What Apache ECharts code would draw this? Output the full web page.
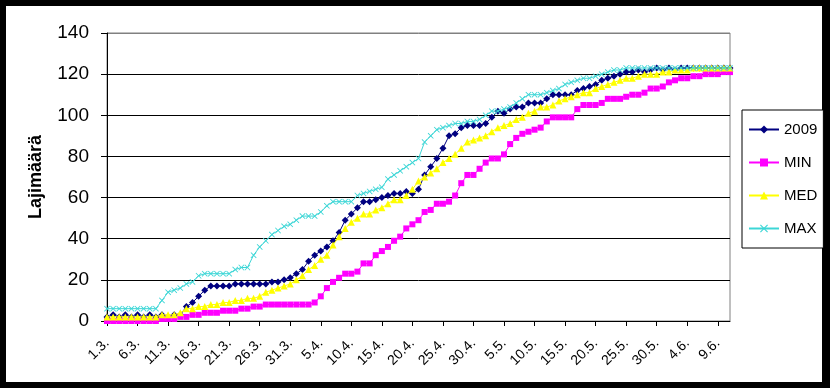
<!DOCTYPE html>
<html><head><meta charset="utf-8">
<script src="https://cdn.jsdelivr.net/npm/echarts@6/dist/echarts.min.js"></script>
<style>html,body{margin:0;padding:0;background:#000;}#c{width:830px;height:388px;}</style>
</head><body><div id="c"></div>
<script>
// categories: 1.3. .. 11.6.
const monthDays = [[3,31],[4,30],[5,31],[6,11]];
const dates = [];
monthDays.forEach(([m,n]) => { for (let d = 1; d <= n; d++) dates.push(d + '.' + m + '.'); });

const y2009 = [2,3,2,3,2,3,2,3,2,3,2,3,3,7,9,12,15,17,17,17,17,18,18,18,18,18,18,19,19,20,
  21,23,25,29,32,34,36,39,43,49,52,55,58,58,59,60,61,62,62,63,62,64,71,75,79,84,90,91,94,95,
  95,95,96,99,102,101,103,104,104,106,106,106,108,110,110,110,110,112,113,114,115,117,118,119,120,121,121,122,121,122,
  123,122,123,122,123,123,123,123,123,123,123,123,123];
const yMin = [0,0,0,0,0,0,0,0,0,1,1,1,2,2,3,3,4,4,4,5,5,5,6,6,7,7,8,8,8,8,
  8,8,8,8,9,12,16,19,21,23,23,24,28,28,32,34,36,39,41,45,47,49,53,54,57,57,58,61,67,71,
  71,74,77,79,79,81,86,89,91,92,93,94,97,99,99,99,99,103,105,105,105,106,108,108,108,109,110,110,111,113,
  113,114,116,117,118,118,119,119,120,120,120,121,121];
const yMed = [2,2,2,2,2,2,2,2,2,3,3,3,4,6,6,7,7,8,8,9,9,10,10,11,11,12,14,15,16,17,
  18,20,22,25,27,30,32,37,41,45,48,50,52,52,54,55,57,59,59,61,64,68,70,72,74,77,79,81,84,87,
  88,89,90,92,94,95,96,98,99,101,102,104,104,105,107,108,109,110,111,111,113,114,115,116,117,118,118,119,120,120,
  120,121,121,122,122,122,123,123,123,123,123,123,123];
const yMax = [6,6,6,6,6,6,6,6,6,10,14,15,16,18,19,22,23,23,23,23,23,25,26,26,32,36,39,42,44,46,
  47,49,51,51,51,53,56,58,58,58,58,61,62,63,64,65,69,71,73,75,77,79,87,90,93,94,95,96,96,97,
  97,98,100,102,102,103,104,106,108,110,110,110,111,112,113,115,116,117,118,118,119,120,121,122,122,123,123,123,123,123,
  123,123,123,123,123,123,123,123,123,123,123,123,123];
const yTicks = [0,20,40,60,80,100,120,140];

const font = 'Arial, "Liberation Sans", sans-serif';
const xShape = 'path://M0,1L1,0L5,4L9,0L10,1L6,5L10,9L9,10L5,6L1,10L0,9L4,5Z';

const chart = echarts.init(document.getElementById('c'), null, {renderer: 'canvas'});
function mk(name, data, color, symbol, size, z) {
  return {name, type: 'line', data, symbol, symbolSize: size, showSymbol: true, showAllSymbol: true, z,
    animation: false, lineStyle: {color, width: 1}, itemStyle: {color}};
}
chart.setOption({
  backgroundColor: '#000',
  animation: false,
  graphic: [{type: 'rect', z: -100, silent: true, shape: {x: 6, y: 6, width: 816, height: 376}, style: {fill: '#fff'}}],
  grid: {left: 107, right: 100, top: 33, bottom: 67, show: true, borderColor: '#808080', borderWidth: 1, backgroundColor: 'transparent'},
  legend: {
    orient: 'vertical', left: 742, top: 110, padding: [11, 6, 11, 6], itemGap: 16,
    itemWidth: 30, itemHeight: 10, borderColor: '#000', borderWidth: 1, backgroundColor: '#fff',
    textStyle: {fontFamily: font, fontSize: 15, color: '#000', lineHeight: 17},
    data: ['2009', 'MIN', 'MED', 'MAX']
  },
  xAxis: {
    type: 'category', data: dates, boundaryGap: false,
    axisLine: {lineStyle: {color: '#000', width: 1}},
    axisTick: {interval: 4, length: 5, lineStyle: {color: '#000'}},
    axisLabel: {interval: 4, rotate: 45, margin: 20, fontFamily: font, fontSize: 14, color: '#000'},
    splitLine: {show: false}
  },
  yAxis: {
    type: 'value', min: 0, max: 140, interval: 20,
    name: 'Lajimäärä', nameLocation: 'middle', nameGap: 62, nameRotate: 90,
    nameTextStyle: {fontFamily: font, fontSize: 18, fontWeight: 'bold', color: '#000'},
    axisLine: {show: true, lineStyle: {color: '#000', width: 1}},
    axisTick: {show: true, length: 6, lineStyle: {color: '#000'}},
    axisLabel: {margin: 18, fontFamily: font, fontSize: 19, color: '#000', formatter: v => yTicks.includes(v) ? String(v) : ''},
    splitLine: {show: true, lineStyle: {color: ['#000','#000','#000','#000','#000','#000','#000','#808080'], width: 1}}
  },
  series: [
    mk('2009', y2009, '#000080', 'diamond', 7, 2),
    mk('MIN', yMin, '#FF00FF', 'rect', 6, 3),
    mk('MED', yMed, '#FFFF00', 'triangle', 7, 4),
    mk('MAX', yMax, '#3CD6D6', xShape, 6, 5)
  ]
});
</script></body></html>
